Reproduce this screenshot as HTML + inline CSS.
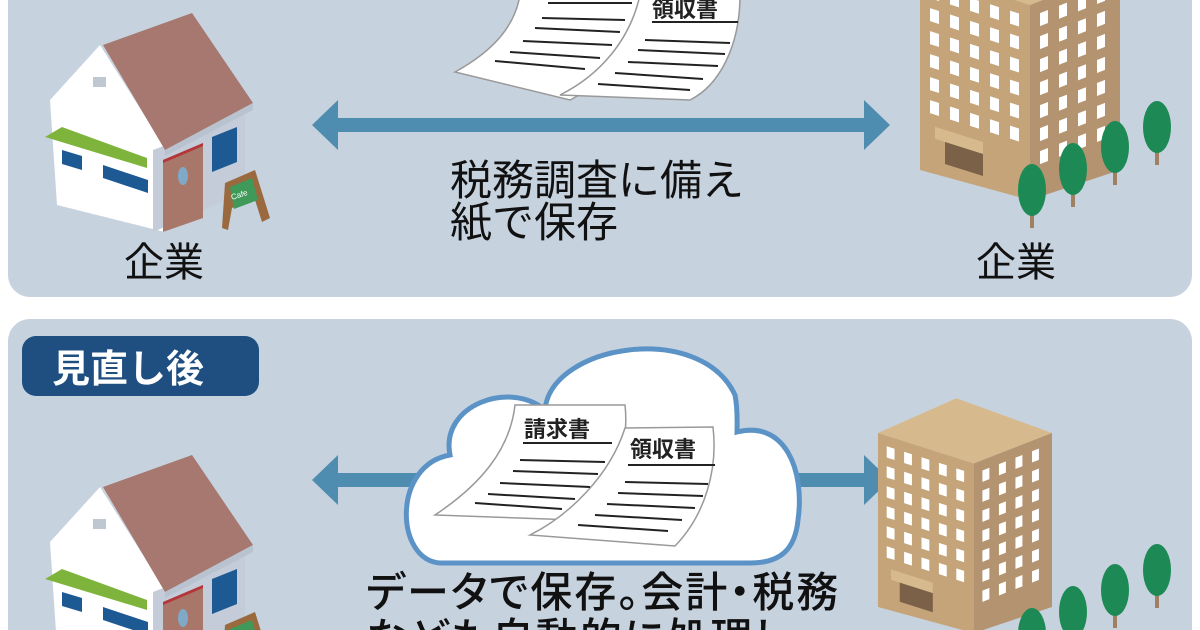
<!DOCTYPE html>
<html><head><meta charset="utf-8"><style>
html,body{margin:0;padding:0;background:#fff;overflow:hidden;width:1200px;height:630px;}
svg{display:block}
text{font-family:"Liberation Sans","Noto Sans CJK JP",sans-serif;}
.palt{font-feature-settings:"palt";}
</style></head><body>
<svg width="1200" height="630" viewBox="0 0 1200 630" xmlns="http://www.w3.org/2000/svg">
<defs>
<g id="house">
  <polygon points="50,100 100,45 165,148 165,232 57,205" fill="#fff"/>
  <polygon points="153,150 245,115 245,192 153,232" fill="#c3ccd8"/>
  <polygon points="103,45 192,13 253,103 165,150" fill="#a6786f"/>
  <polygon points="165,150 253,103 253,110 165,156" fill="#b9c3cf"/>
  <polygon points="163,160 203,143 203,218 163,232" fill="#a8776a"/>
  <polygon points="163,160 203,143 203,146 163,163" fill="#b4363a"/>
  <ellipse cx="183" cy="176" rx="5" ry="9" fill="#7fa9c6"/>
  <polygon points="212,137 237,127 237,162 212,172" fill="#1d5a94"/>
  <polygon points="62,150 82,156 82,170 62,164" fill="#1d5a94"/>
  <polygon points="103,165 148,180 148,193 103,178" fill="#1d5a94"/>
  <polygon points="45,137 62,127 147,158 147,168" fill="#7fb43c"/>
  <rect x="93" y="77" width="13" height="10" fill="#bfc7d1"/>
  <polygon points="225,183 255,170 270,218 262,222 255,200 232,208 228,230 222,228" fill="#9a6a3e"/>
  <polygon points="230,187 252,178 258,200 234,209" fill="#3f9a5a"/>
  <text x="232" y="200" font-size="8" fill="#fff" transform="rotate(-18 232 200)">Cafe</text>
</g>
<g id="wrow">
  <rect x="10" y="0" width="9" height="13"/><rect x="30" y="0" width="9" height="13"/><rect x="50" y="0" width="9" height="13"/><rect x="70" y="0" width="9" height="13"/><rect x="90" y="0" width="9" height="13"/>
</g>
<g id="wrowR">
  <rect x="10" y="0" width="8" height="13"/><rect x="29" y="0" width="8" height="13"/><rect x="48" y="0" width="8" height="13"/><rect x="67" y="0" width="8" height="13"/>
</g>
<g id="bldg">
  <polygon points="0,0 90,-40 200,0 110,35" fill="#d6ba8e"/>
  <polygon points="0,0 110,35 110,230 0,200" fill="#c4a478"/>
  <polygon points="110,35 200,0 200,200 110,230" fill="#b39370"/>
  <g transform="skewY(17.65)" fill="#fff">
    <use href="#wrow" y="12"/><use href="#wrow" y="35"/><use href="#wrow" y="58"/><use href="#wrow" y="81"/><use href="#wrow" y="104"/><use href="#wrow" y="127"/>
    <rect x="15" y="152" width="48" height="12" fill="#d6ba8e"/>
    <rect x="25" y="164" width="38" height="22" fill="#7a6148"/>
  </g>
  <g transform="translate(110,35) skewY(-21.25)" fill="#fff">
    <use href="#wrowR" y="12"/><use href="#wrowR" y="35"/><use href="#wrowR" y="58"/><use href="#wrowR" y="81"/><use href="#wrowR" y="104"/><use href="#wrowR" y="127"/><use href="#wrowR" y="150"/>
  </g>
</g>
<g id="tree">
  <rect x="-2" y="-40" width="4" height="40" fill="#a08060"/>
  <ellipse cx="0" cy="-38" rx="14" ry="26" fill="#1d8a56"/>
</g>
</defs>

<rect x="8" y="-30" width="1184" height="327" rx="22" fill="#c7d2df"/>
<rect x="8" y="319" width="1184" height="340" rx="22" fill="#c7d2df"/>

<use href="#house"/>
<g fill="#4f8db0">
  <rect x="335" y="118" width="530" height="14"/>
  <polygon points="312,125 338,100 338,150"/>
  <polygon points="890,125 864,100 864,150"/>
</g>
<path d="M520,-5 L640,-5 C640,40 610,80 570,100 L455,72 C495,50 515,25 520,-5Z" fill="#fff" stroke="#999" stroke-width="1.5"/>
<path d="M640,-5 L740,-5 C740,45 720,85 690,100 L560,95 C600,75 630,40 640,-5Z" fill="#fff" stroke="#999" stroke-width="1.5"/>
<g stroke="#222" stroke-width="2">
  <line x1="548" y1="3" x2="632" y2="3"/>
  <line x1="542" y1="18" x2="625" y2="20"/><line x1="535" y1="28" x2="620" y2="32"/><line x1="523" y1="41" x2="612" y2="45"/><line x1="510" y1="52" x2="600" y2="58"/><line x1="495" y1="61" x2="585" y2="69"/>
  <line x1="652" y1="22" x2="738" y2="22"/>
  <line x1="645" y1="40" x2="730" y2="43"/><line x1="638" y1="50" x2="725" y2="54"/><line x1="628" y1="62" x2="718" y2="66"/><line x1="615" y1="73" x2="703" y2="79"/><line x1="598" y1="84" x2="690" y2="90"/>
</g>
<text x="652" y="17" font-size="22" font-weight="700" fill="#222">領収書</text>
<text x="450" y="195" font-size="42" fill="#111">税務調査に備え</text>
<text x="450" y="237" font-size="42" fill="#111">紙で保存</text>
<text x="124" y="276" font-size="40" fill="#111">企業</text>
<text x="976" y="276" font-size="40" fill="#111">企業</text>
<use href="#bldg" transform="translate(920,-30)"/>
<use href="#tree" x="1032" y="228"/><use href="#tree" x="1073" y="207"/><use href="#tree" x="1115" y="185"/><use href="#tree" x="1157" y="165"/>

<rect x="22" y="336" width="237" height="60" rx="14" fill="#1e4f80"/>
<text x="52" y="382" font-size="38" font-weight="700" fill="#fff">見直し後</text>
<use href="#house" y="442"/>
<g fill="#4f8db0">
  <rect x="335" y="473" width="530" height="14"/>
  <polygon points="312,480 338,455 338,505"/>
  <polygon points="890,480 864,455 864,505"/>
</g>
<path d="M440,563 C395,560 392,465 450,455 C440,405 510,380 545,410 C550,345 700,320 735,395 C738,410 737,425 737,432 C785,420 805,470 798,520 C795,550 780,563 750,563 Z" fill="#fff" stroke="#5b93c6" stroke-width="5"/>
<path d="M515,405 L625,405 C630,450 610,495 575,520 L435,515 C480,485 510,450 515,405Z" fill="#fff" stroke="#999" stroke-width="1.5"/>
<path d="M625,428 L713,427 C718,470 705,515 675,546 L530,535 C570,515 610,475 625,428Z" fill="#fff" stroke="#999" stroke-width="1.5"/>
<text x="524" y="437" font-size="22" font-weight="700" fill="#222">請求書</text>
<text x="630" y="457" font-size="22" font-weight="700" fill="#222">領収書</text>
<g stroke="#222" stroke-width="2">
  <line x1="523" y1="443" x2="612" y2="443"/>
  <line x1="520" y1="460" x2="605" y2="462"/><line x1="513" y1="471" x2="598" y2="474"/><line x1="500" y1="483" x2="590" y2="487"/><line x1="488" y1="494" x2="575" y2="499"/><line x1="475" y1="503" x2="562" y2="509"/>
  <line x1="628" y1="465" x2="715" y2="465"/>
  <line x1="625" y1="482" x2="708" y2="484"/><line x1="618" y1="493" x2="703" y2="496"/><line x1="607" y1="504" x2="695" y2="508"/><line x1="595" y1="515" x2="682" y2="520"/><line x1="578" y1="525" x2="668" y2="531"/>
</g>
<text class="palt" x="366" y="607" font-size="42" font-weight="500" fill="#111" letter-spacing="2">データで保存。会計・税務</text>
<text class="palt" x="366" y="653" font-size="42" font-weight="500" fill="#111" letter-spacing="2">なども自動的に処理し</text>
<use href="#bldg" transform="translate(878,433) scale(0.87)"/>
<use href="#tree" x="1032" y="672"/><use href="#tree" x="1073" y="650"/><use href="#tree" x="1115" y="628"/><use href="#tree" x="1157" y="608"/>
</svg>
</body></html>
